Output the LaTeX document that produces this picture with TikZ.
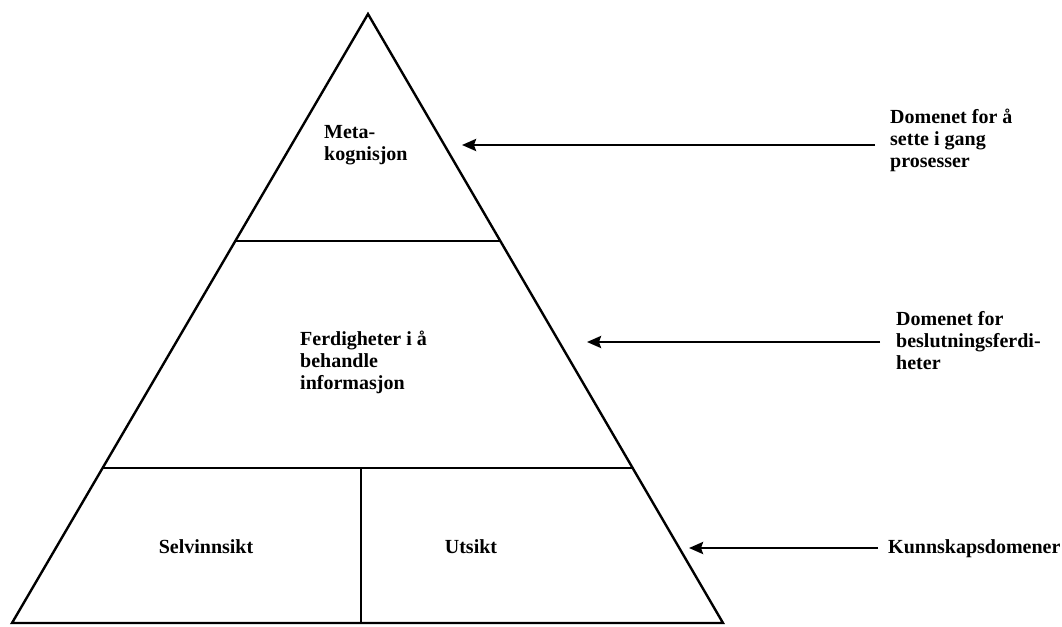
\documentclass[tikz,border=0pt]{standalone}
\usepackage{fontspec}
\setmainfont{Liberation Serif}
\usetikzlibrary{arrows.meta}
\begin{document}
\begin{tikzpicture}[x=1pt,y=-1pt,
  edge/.style={line width=2.4pt,line join=miter},
  lbl/.style={font=\fontsize{20}{22}\selectfont\bfseries,align=left,inner sep=0pt,anchor=north west},
  pointer/.style={line width=2.6pt,-{Stealth[length=14pt,width=12pt,inset=2pt]}}]
\useasboundingbox[fill=white] (0,0) rectangle (1062,626);
% triangle
\coordinate (apex) at (368,14);
\coordinate (bl) at (12,623);
\coordinate (br) at (723,623);
\coordinate (l1a) at (235.5,241);
\coordinate (l1b) at (500.5,241);
\coordinate (l2a) at (103,468);
\coordinate (l2b) at (633,468);
\coordinate (dtop) at (361,468);
\coordinate (dbot) at (361,623);
\draw[edge] (apex) -- (br) -- (bl) -- cycle;
\draw[edge] (l1a) -- (l1b);
\draw[edge] (l2a) -- (l2b);
\draw[edge] (dtop) -- (dbot);
% inside labels
\node[lbl] (meta) at (324,125) {Meta-\\kognisjon};
\node[lbl] (ferd) at (300,331) {Ferdigheter i å\\behandle\\informasjon};
\node[lbl,anchor=base] (selv) at (206,553) {Selvinnsikt};
\node[lbl,anchor=base] (uts) at (471,553) {Utsikt};
% right labels
\node[lbl] (d1) at (890,109) {Domenet for å\\sette i gang\\prosesser};
\node[lbl] (d2) at (896,311) {Domenet for\\beslutningsferdi-\\heter};
\node[lbl,anchor=base west] (d3) at (888,553) {Kunnskapsdomener};
% arrows
\coordinate (a1s) at (875,145);
\coordinate (a1e) at (462,145);
\coordinate (a2s) at (880,342);
\coordinate (a2e) at (587,342);
\coordinate (a3s) at (878,548);
\coordinate (a3e) at (689,548);
\draw[pointer] (a1s) -- (a1e);
\draw[pointer] (a2s) -- (a2e);
\draw[pointer] (a3s) -- (a3e);
\end{tikzpicture}
\end{document}
